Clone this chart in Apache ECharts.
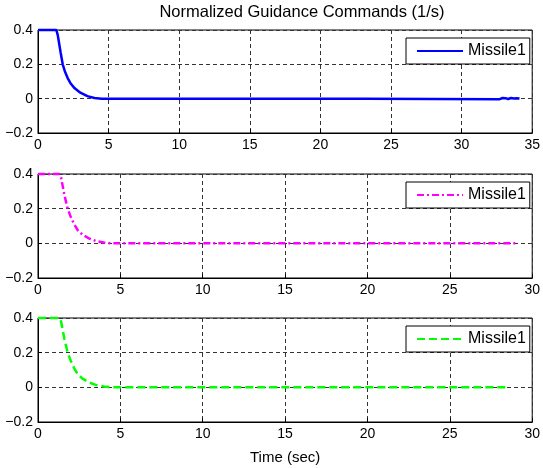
<!DOCTYPE html>
<html>
<head>
<meta charset="utf-8">
<script src="https://cdn.jsdelivr.net/npm/echarts@6/dist/echarts.min.js"></script>
<style>
  html, body { margin: 0; padding: 0; background: #fff; }
  #chart { width: 543px; height: 468px; }
</style>
</head>
<body>
<div id="chart"></div>
<script>
// Normalized guidance command histories (1/s) for three engagement runs
const titleText = 'Normalized Guidance Commands (1/s)';
const xLabel = 'Time (sec)';
const legendLabel = 'Missile1';

const yTicks = [-0.2, 0, 0.2, 0.4];
const xMaxTop = 35;
const xMaxLower = 30;

// Run 1 (solid blue)
const timeA = [0, 1.3, 1.4, 1.5, 1.6, 1.75, 1.9, 2.1, 2.3, 2.6, 3.0, 3.5, 4.0, 4.5, 23.2, 23.3, 32.7, 32.9, 33.1, 33.3, 33.5, 33.7, 33.9, 34.1];
const cmdA  = [0.4, 0.4, 0.37, 0.32, 0.27, 0.2, 0.16, 0.12, 0.09, 0.06, 0.035, 0.015, 0.004, 0, 0, -0.003, -0.003, 0.004, 0.003, -0.002, 0.004, 0.001, 0.003, 0.001];

// Run 2 (magenta dash-dot)
const timeB = [0, 1.3, 1.4, 1.5, 1.6, 1.8, 2.0, 2.2, 2.4, 2.7, 3.1, 3.5, 4.0, 4.5, 29.0];
const cmdB  = [0.4, 0.4, 0.38, 0.33, 0.28, 0.2, 0.15, 0.11, 0.077, 0.05, 0.028, 0.014, 0.005, 0, 0];

// Run 3 (green dashed)
const timeC = [0, 1.3, 1.4, 1.5, 1.6, 1.8, 2.0, 2.2, 2.4, 2.7, 3.1, 3.5, 4.0, 4.5, 28.4];
const cmdC  = [0.4, 0.4, 0.38, 0.33, 0.28, 0.2, 0.15, 0.11, 0.077, 0.05, 0.028, 0.014, 0.005, 0, 0];

const FONT = 'Liberation Sans, Arial, sans-serif';
const pairs = (t, v) => t.map((x, i) => [x, v[i]]);

const gridDash = { color: '#333', width: 1, type: [4, 3] };

function xAxisFor(idx, max, withName) {
  return {
    type: 'value', gridIndex: idx, min: 0, max: max, interval: 5,
    axisLine: { show: true, onZero: false, lineStyle: { color: '#000', width: 1 } },
    axisTick: { show: true, inside: true, length: 4, lineStyle: { color: '#000' } },
    axisLabel: { color: '#000', fontSize: 14, fontFamily: FONT, margin: 5 },
    splitLine: { show: true, lineStyle: gridDash },
    name: withName ? xLabel : '',
    nameLocation: 'middle', nameGap: 28,
    nameTextStyle: { color: '#000', fontSize: 15, fontFamily: FONT }
  };
}

function yAxisFor(idx) {
  return {
    type: 'value', gridIndex: idx,
    min: yTicks[0], max: yTicks[yTicks.length - 1], interval: 0.2,
    axisLine: { show: true, onZero: false, lineStyle: { color: '#000', width: 1 } },
    axisTick: { show: true, inside: true, length: 4, lineStyle: { color: '#000' } },
    axisLabel: {
      color: '#000', fontSize: 14, fontFamily: FONT, margin: 5,
      formatter: v => {
        const r = Math.round(v * 10) / 10;
        if (r === 0) return '0';
        return r < 0 ? '\u2212' + String(-r) : String(r);
      }
    },
    splitLine: { show: true, lineStyle: gridDash }
  };
}

function legendFor(seriesName, top) {
  return {
    data: [seriesName],
    left: 406, top: top,
    orient: 'vertical',
    itemWidth: 46, itemHeight: 14,
    padding: [5, 4, 5, 10],
    backgroundColor: '#fff',
    borderColor: '#000', borderWidth: 1, borderRadius: 0,
    selectedMode: false,
    // line sample only, no marker in the middle
    itemStyle: { color: 'rgba(0,0,0,0)', borderWidth: 0, opacity: 0 },
    formatter: () => legendLabel,
    textStyle: { color: '#000', fontSize: 16, fontFamily: FONT }
  };
}

const chart = echarts.init(document.getElementById('chart'), null, { renderer: 'canvas' });

chart.setOption({
  animation: false,
  backgroundColor: '#fff',
  grid: [
    { left: 38, top: 30, width: 497, height: 103, show: true, borderColor: '#000', borderWidth: 1, backgroundColor: 'transparent' },
    { left: 38, top: 174, width: 497, height: 104, show: true, borderColor: '#000', borderWidth: 1, backgroundColor: 'transparent' },
    { left: 38, top: 318, width: 497, height: 104, show: true, borderColor: '#000', borderWidth: 1, backgroundColor: 'transparent' }
  ],
  xAxis: [xAxisFor(0, xMaxTop, false), xAxisFor(1, xMaxLower, false), xAxisFor(2, xMaxLower, true)],
  yAxis: [yAxisFor(0), yAxisFor(1), yAxisFor(2)],
  legend: [legendFor('Missile1|a', 38), legendFor('Missile1|b', 182), legendFor('Missile1|c', 326)],
  graphic: [{
    type: 'text', x: 302, y: 12,
    style: { text: titleText, fill: '#000', font: '16.5px ' + FONT, align: 'center', verticalAlign: 'middle' }
  }],
  series: [
    {
      name: 'Missile1|a', type: 'line', xAxisIndex: 0, yAxisIndex: 0,
      data: pairs(timeA, cmdA), symbol: 'none', clip: false,
      lineStyle: { color: '#0000ff', width: 2.5, type: 'solid' },
      itemStyle: { color: '#0000ff' }
    },
    {
      name: 'Missile1|b', type: 'line', xAxisIndex: 1, yAxisIndex: 1,
      data: pairs(timeB, cmdB), symbol: 'none', clip: false,
      lineStyle: { color: '#ff00ff', width: 2.5, type: [7, 3, 2, 3] },
      itemStyle: { color: '#ff00ff' }
    },
    {
      name: 'Missile1|c', type: 'line', xAxisIndex: 2, yAxisIndex: 2,
      data: pairs(timeC, cmdC), symbol: 'none', clip: false,
      lineStyle: { color: '#00ff00', width: 2.5, type: [8, 4] },
      itemStyle: { color: '#00ff00' }
    }
  ]
});
</script>
</body>
</html>
